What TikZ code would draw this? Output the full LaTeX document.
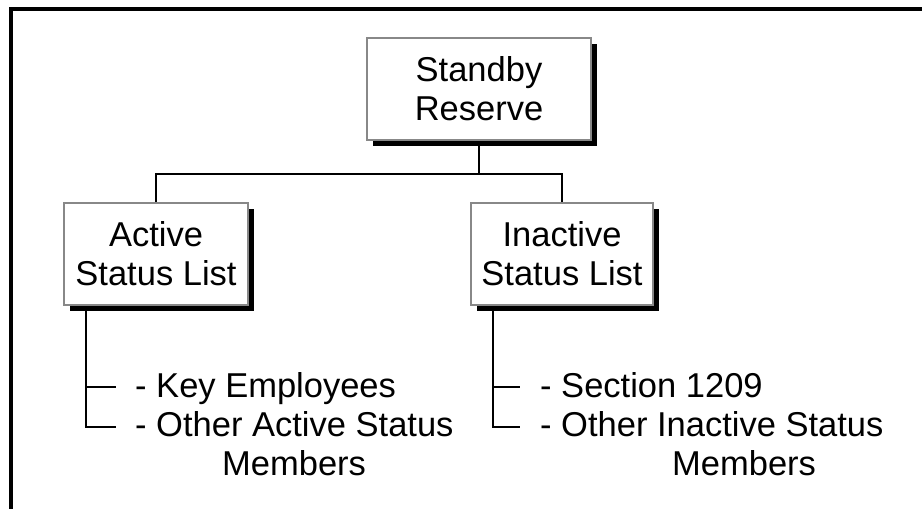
\documentclass[tikz,border=0pt]{standalone}
\usepackage{fontspec}
\setmainfont{Liberation Sans}
\usetikzlibrary{shadows}
\definecolor{boxgray}{RGB}{136,136,136}
\begin{document}
\begin{tikzpicture}[x=1pt,y=-1pt,
  box/.style={draw=boxgray, line width=2pt, fill=white, align=center, inner sep=0pt,
    minimum height=102pt, font=\fontsize{34.5}{39}\selectfont,
    drop shadow={shadow xshift=5.5pt, shadow yshift=-5.5pt, opacity=1, fill=black}},
  conn/.style={line width=2pt, black},
  item/.style={anchor=base west, inner sep=0pt, font=\fontsize{34.5}{39}\selectfont},
  frameline/.style={line width=4pt}]
\useasboundingbox (0,0) rectangle (922,509);
\draw[frameline] (11,509) -- (11,9) -- (922,9);

\node[box, minimum width=224pt] (std) at (479,89) {Standby\\Reserve};
\node[box, minimum width=184pt] (act) at (156,254) {Active\\Status List};
\node[box, minimum width=182pt] (ina) at (562,254) {Inactive\\Status List};

\coordinate (j) at (479,174);
\draw[conn] (std.south) -- (j);
\draw[conn] (act.north) |- (j) -| (ina.north);

% Active list
\coordinate (at) at ([xshift=23pt]act.south west);
\coordinate (ab1) at (116,387);
\coordinate (ab2) at (116,427);
\draw[conn] (at) |- (ab2);
\draw[conn] (at |- ab1) -- (ab1);
\node[item] (ak) at (135,397) {- Key Employees};
\node[item] (ao) at (135,436) {- Other Active Status};
\node[item] (am) at (222,475) {Members};

% Inactive list
\coordinate (it) at ([xshift=23pt]ina.south west);
\coordinate (ib1) at (520,387);
\coordinate (ib2) at (520,427);
\draw[conn] (it) |- (ib2);
\draw[conn] (it |- ib1) -- (ib1);
\node[item] (is) at (540,397) {- Section 1209};
\node[item] (io) at (540,436) {- Other Inactive Status};
\node[item] (im) at (672,475) {Members};
\end{tikzpicture}
\end{document}
